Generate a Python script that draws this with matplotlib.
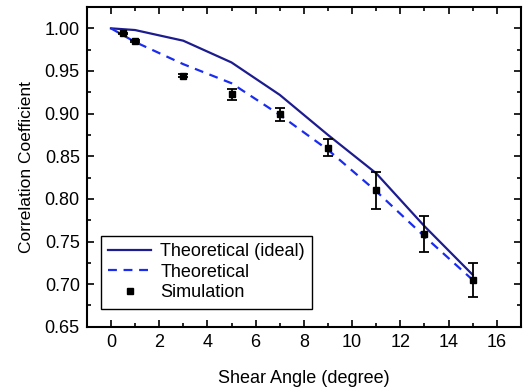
import matplotlib
matplotlib.use("Agg")
import matplotlib.pyplot as plt
from matplotlib.ticker import MultipleLocator, FormatStrFormatter
from matplotlib.lines import Line2D

plt.rcParams['font.family'] = ['Liberation Sans', 'DejaVu Sans']

# theoretical curves
theo_x = [0, 1, 3, 5, 7, 9, 11, 13, 15]
ideal_y = [1.000, 0.998, 0.9855, 0.960, 0.922, 0.875, 0.830, 0.768, 0.711]
theo_y = [1.000, 0.984, 0.958, 0.9356, 0.8985, 0.8575, 0.809, 0.756, 0.705]

# simulation points with error bars
sim_x = [0.5, 1, 3, 5, 7, 9, 11, 13, 15]
sim_y = [0.994, 0.985, 0.9445, 0.9227, 0.899, 0.860, 0.810, 0.759, 0.7053]
sim_err = [0.001, 0.001, 0.002, 0.0066, 0.008, 0.0098, 0.022, 0.0207, 0.020]

fig = plt.figure(figsize=(5.23, 3.9), dpi=100)
ax = fig.add_axes([0.166, 0.162, 0.83, 0.82])

l1, = ax.plot(theo_x, ideal_y, '-', color='#1c1c8f', lw=1.6)
l2, = ax.plot(theo_x, theo_y, '--', color='#1a2cf0', lw=1.6, dashes=(4, 3))
ax.errorbar(sim_x, sim_y, yerr=sim_err, fmt='s', color='black', ms=5,
            capsize=3.5, elinewidth=1.3, capthick=1.3)
sq = Line2D([], [], ls='none', marker='s', color='black', ms=5)

ax.set_xlim(-1, 17)
ax.set_ylim(0.65, 1.025)
ax.xaxis.set_major_locator(MultipleLocator(2))
ax.xaxis.set_minor_locator(MultipleLocator(1))
ax.yaxis.set_major_locator(MultipleLocator(0.05))
ax.yaxis.set_minor_locator(MultipleLocator(0.025))
ax.yaxis.set_major_formatter(FormatStrFormatter('%.2f'))
ax.tick_params(which='both', direction='in', top=True, right=True, labelsize=13, width=1.2)
ax.tick_params(which='major', length=5, pad=5)
ax.tick_params(which='minor', length=3)
for s in ax.spines.values():
    s.set_linewidth(1.5)

ax.set_xlabel("Shear Angle (degree)", fontsize=13, labelpad=14)
ax.set_ylabel("Correlation Coefficient", fontsize=12.5, labelpad=8)

leg = ax.legend([l1, l2, sq], ["Theoretical (ideal)", "Theoretical", "Simulation"],
                loc='lower left', bbox_to_anchor=(0.02, 0.04), fontsize=13,
                fancybox=False, edgecolor='black', framealpha=1,
                handlelength=2.4, handletextpad=0.5, borderpad=0.4,
                labelspacing=0.2, borderaxespad=0.3)
leg.get_frame().set_linewidth(1.0)

fig.savefig("out.png", dpi=100)
